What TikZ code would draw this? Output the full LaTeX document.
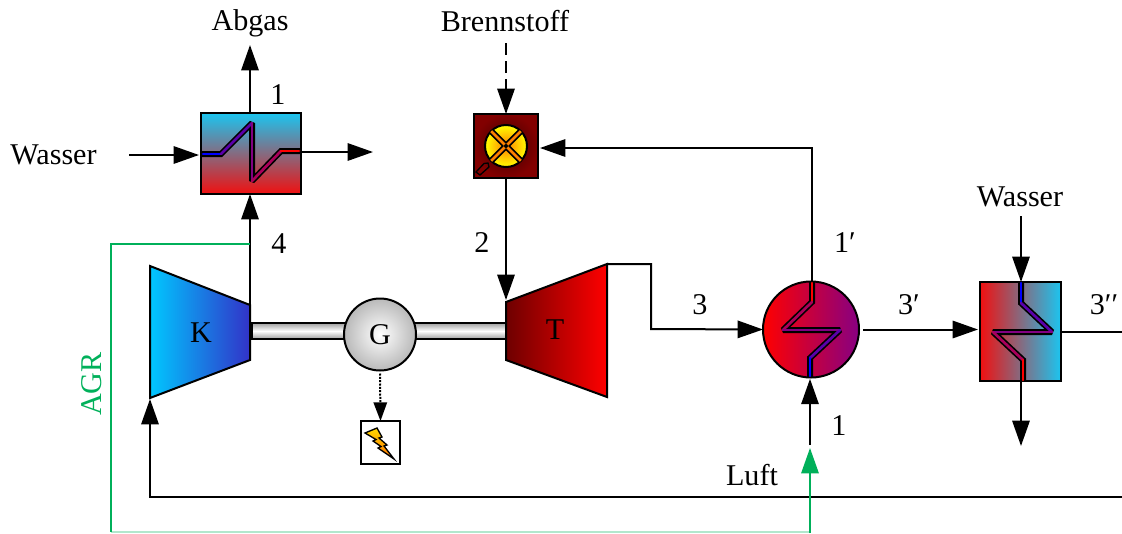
\documentclass[tikz,border=0pt]{standalone}
\usepackage{fontspec}
\setmainfont{Liberation Serif}
\usetikzlibrary{arrows.meta}
\definecolor{kaltblau}{RGB}{27,197,240}
\definecolor{heissrot}{RGB}{240,16,16}
\definecolor{agrgruen}{RGB}{0,176,90}
\definecolor{rohrviolett}{RGB}{130,0,130}
\tikzset{every picture/.style={line width=1.5pt}}
\tikzset{
  pfeil/.style={-{Triangle[length=19pt,width=13pt]}},
  gpfeil/.style={pfeil,color=agrgruen},
  komp/.style={draw,inner sep=0pt,outer sep=0pt},
  txt/.style={font=\fontsize{22.6pt}{26pt}\selectfont,inner sep=0pt},
  rohr/.style={line width=4.5pt,line join=miter,miter limit=2,color=black},
  rohrfarbe/.style={line width=2pt,line cap=round},
}
\begin{document}
\begin{tikzpicture}[x=0.75pt,y=0.75pt,yscale=-1,xscale=1]
\useasboundingbox (0,0) rectangle (1122,533);

%Shape: Shaft
\node [komp,minimum width=190.5pt,minimum height=12pt,top color=gray!75,bottom color=gray!75,middle color=white] (shaft) at (379,331) {};

%Shape: Compressor
\shade [left color={rgb,255:red,0;green,200;blue,255},right color={rgb,255:red,50;green,50;blue,200}] (150,266) -- (250,305) -- (250,360) -- (150,398) -- cycle;
\draw (150,266) -- (250,305) -- (250,360) -- (150,398) -- cycle;
\coordinate (kin) at (150,399);
\coordinate (ktop) at (250,305);
%Shape: Turbine
\shade [left color={rgb,255:red,110;green,0;blue,0},right color={rgb,255:red,255;green,0;blue,0}] (506,302) -- (607,264) -- (607,397) -- (506,360) -- cycle;
\draw (506,302) -- (607,264) -- (607,397) -- (506,360) -- cycle;
\coordinate (tin) at (506,300);
\coordinate (tout) at (607,264);

%Shape: Generator
\node [komp,circle,minimum size=54pt,inner color=white,outer color=gray!55] (gen) at (380,334.5) {};
%Shape: Heat exchangers
\node [komp,minimum width=75pt,minimum height=60.75pt,top color=kaltblau,bottom color=heissrot] (hxa) at (250.5,153.5) {};
\node [komp,circle,minimum size=72pt,left color=red,right color={rgb,255:red,135;green,0;blue,130}] (rek) at (811,329.5) {};
\node [komp,minimum width=60.75pt,minimum height=74.25pt,left color=heissrot,right color=kaltblau] (kuehler) at (1020.5,331.5) {};
%Shape: Burner
\node [komp,minimum size=48pt,inner color={rgb,255:red,60;green,0;blue,0},outer color={rgb,255:red,130;green,0;blue,0}] (bk) at (506,146) {};
\node [komp,circle,minimum size=31.5pt,inner color=orange,outer color=yellow] (flamme) at (506,146) {};
\draw [line width=4.6pt] (flamme.north west) -- (flamme.south east);
\draw [line width=4.6pt] (flamme.north east) -- (flamme.south west);
\draw [line width=2pt,color=orange] (flamme.north west) -- (flamme.south east);
\draw [line width=2pt,color=orange] (flamme.north east) -- (flamme.south west);
\fill (flamme) circle (1.5pt);
\draw [line width=1pt,color=black] (476,172) -- (480,175) -- (489,167) -- (488,163) -- (484,163.5) -- cycle;
%Shape: Bolt box
\node [komp,fill=white,line width=1.1pt,minimum width=29.25pt,minimum height=32.25pt] (blitz) at (380.5,442.5) {};
\draw [line width=1pt,top color=yellow!70!orange,bottom color=orange!90!red,line join=miter] (365,433) -- (377,428) -- (382,437) -- (379,438) -- (387,445) -- (384,446) -- (394,459) -- (378,448) -- (381,446.5) -- (373,441) -- (376,439.5) -- cycle;

%Pipes
\draw [rohr] (202,154) -- (221,154) -- (252,123) -- (252,181) -- (281,151) -- (300,151);
\draw [rohrfarbe,color=blue] (203,154) -- (221,154);
\draw [rohrfarbe,color={rgb,255:red,90;green,0;blue,170}] (221,154) -- (252,123);
\draw [rohrfarbe,color=rohrviolett] (252,123) -- (252,181);
\draw [rohrfarbe,color={rgb,255:red,170;green,0;blue,90}] (252,181) -- (281,151);
\draw [rohrfarbe,color=red] (281,151) -- (299,151);

\draw [rohr] (812,282) -- (812,302) -- (783,330) -- (840,330) -- (810,358) -- (810,377);
\draw [rohrfarbe,color=red] (812,283) -- (812,302);
\draw [rohrfarbe,color={rgb,255:red,170;green,0;blue,90}] (812,302) -- (783,330);
\draw [rohrfarbe,color=rohrviolett] (783,330) -- (840,330);
\draw [rohrfarbe,color={rgb,255:red,90;green,0;blue,170}] (840,330) -- (810,358);
\draw [rohrfarbe,color=blue] (810,358) -- (810,376);

\draw [rohr] (1021,282) -- (1021,303) -- (1052,332) -- (993,332) -- (1023,360) -- (1023,381);
\draw [rohrfarbe,color=blue] (1021,283) -- (1021,303);
\draw [rohrfarbe,color={rgb,255:red,90;green,0;blue,170}] (1021,303) -- (1052,332);
\draw [rohrfarbe,color=rohrviolett] (1052,332) -- (993,332);
\draw [rohrfarbe,color={rgb,255:red,170;green,0;blue,90}] (993,332) -- (1023,360);
\draw [rohrfarbe,color=red] (1023,360) -- (1023,380);

% Text Node
\node [txt] (abgas) at (250,23) {Abgas};
\node [txt] (brennstoff) at (505,21) {Brennstoff};
\node [txt] (wasserl) at (53.5,155) {Wasser};
\node [txt] (wasserr) at (1020,197) {Wasser};
\node [txt] (luft) at (752,475) {Luft};
\node [txt,rotate=90,color=agrgruen] (agr) at (92,384) {AGR};
\node [txt] (p1o) at (278,95) {1};
\node [txt] (p4) at (279,244) {4};
\node [txt] (p2) at (482,243) {2};
\node [txt] (p3) at (700,305) {3};
\node [txt] (p1s) at (845,243) {1′};
\node [txt] (p3s) at (909,305) {3′};
\node [txt] (p3ss) at (1104,305) {3′′};
\node [txt] (p1u) at (839,426) {1};
\node [txt] (kl) at (201,333) {K};
\node [txt] (tl) at (555,330) {T};
\node [txt] (gl) at (380,335) {G};

%Free ends
\coordinate (abgasend) at (250,45);
\coordinate (brstart) at (506,43);
\coordinate (wstart) at (129,155);
\coordinate (hxaein) at (199,155);
\coordinate (hxaaus) at (302,152);
\coordinate (hxaend) at (373,152);
\coordinate (bkein) at (540,148);
\coordinate (wrstart) at (1021,216);
\coordinate (kuehlend) at (1021,446);
\coordinate (kuehlaus) at (1061,332);
\coordinate (randaus) at (1122,332);
\coordinate (randrueck) at (1122,497);
\coordinate (luftend) at (810,448);
\coordinate (luftstart) at (810,533);
\coordinate (luftein) at (810,445);
\coordinate (rekaus) at (812,282);
\coordinate (agrecke) at (111,532);
\coordinate (agrluft) at (810,532);

%Straight Lines
\draw [pfeil] (hxa.north -| abgasend) -- (abgasend);
\draw [pfeil] (wstart) -- (hxaein);
\draw [pfeil] (hxaaus) -- (hxaend);
\draw [pfeil,dash pattern={on 9pt off 4.5pt}] (brstart) -- (bk.north);
\draw [pfeil] (bk.south) -- (tin);
\draw [pfeil] (rekaus) |- (bkein);
\draw [pfeil] (tout) -- (651,264) -- (651,329) -- (rek.west);
\draw [pfeil,shorten <=3pt,shorten >=1.5pt] (rek.east) -- (kuehler.west |- rek.east);
\draw [pfeil] (wrstart) -- (kuehler.north -| wrstart);
\draw [pfeil] (kuehler.south -| kuehlend) -- (kuehlend);
\draw (kuehlaus) -- (randaus);
\draw [pfeil] (randrueck) -| (kin);
\draw [pfeil] (ktop) -- (ktop |- hxa.south);
\draw [pfeil,shorten >=1pt] (luftein) -- (rek.south -| luftein);
\draw [color=agrgruen!30,line width=1.2pt] (agrecke) -- (agrluft);
\draw [gpfeil] (luftstart) -- (luftend);
\draw [color=agrgruen,line width=1.2pt] (250,244) -- (111,244) -- (agrecke);
\draw [pfeil,densely dotted,arrows={-{Triangle[length=14pt,width=10pt]}}] (gen.south) ++(0,3) -- (blitz.north);
\end{tikzpicture}
\end{document}
